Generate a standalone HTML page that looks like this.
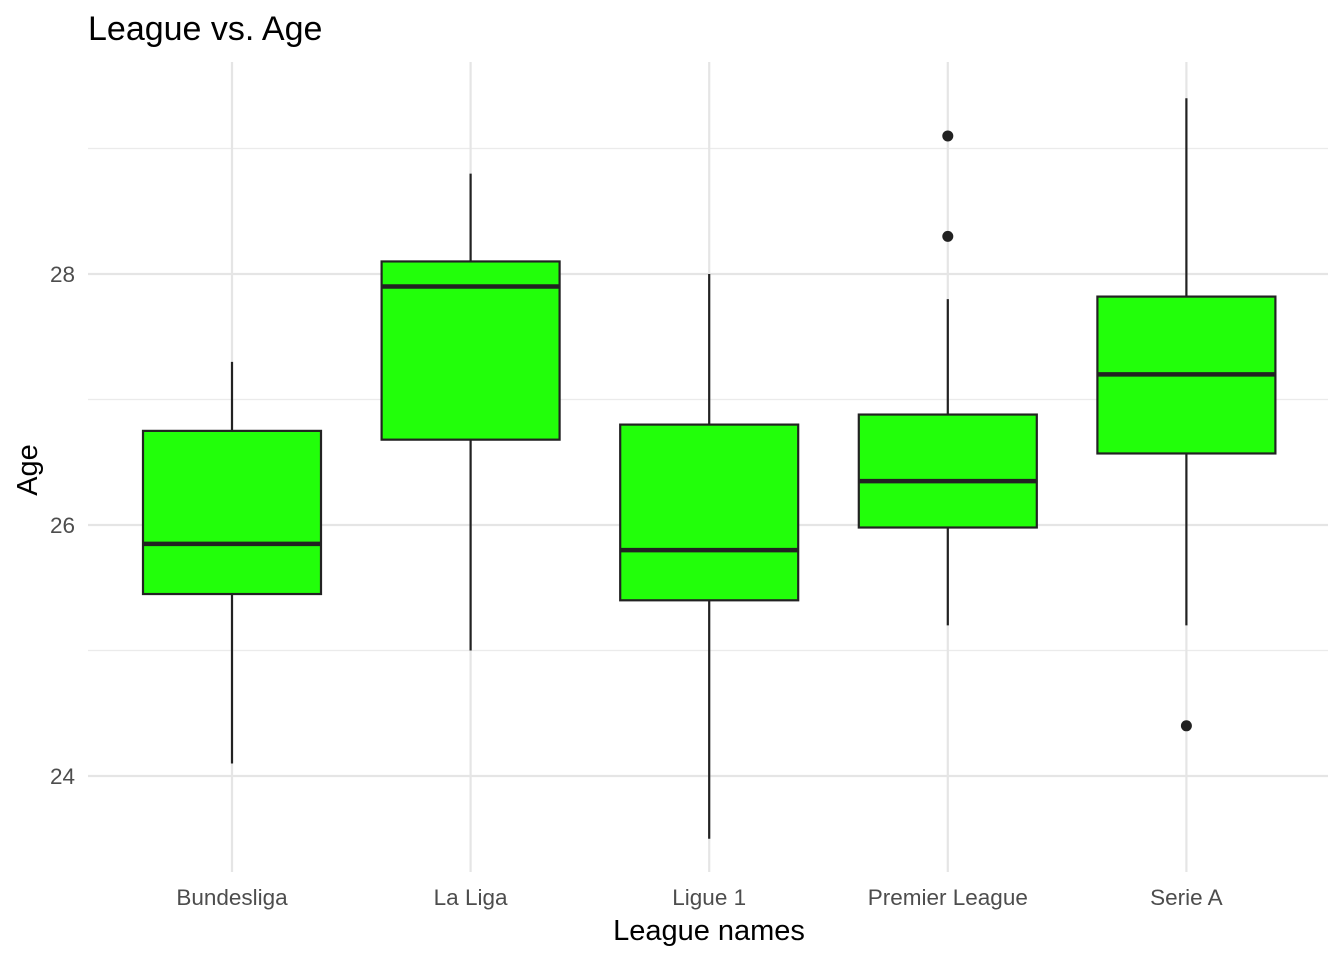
<!DOCTYPE html>
<html><head><meta charset="utf-8"><style>
body{margin:0;background:#fff;font-family:"Liberation Sans",Arial,sans-serif;}
svg{display:block}
</style></head><body>
<svg width="1344" height="960" xmlns="http://www.w3.org/2000/svg">
<text x="88" y="40" font-size="34" fill="#000">League vs. Age</text>
<g id="grid"></g><g id="boxes"></g><g id="axes"></g>
<text x="709" y="940" font-size="29" text-anchor="middle" fill="#000">League names</text>
<text transform="translate(37,470) rotate(-90)" font-size="29" text-anchor="middle" fill="#000">Age</text>
</svg>
<script>
const categories=["Bundesliga","La Liga","Ligue 1","Premier League","Serie A"];
const lowerWhisker=[24.10,25.0,23.50,25.20,25.20];
const q1=[25.45,26.68,25.40,25.98,26.57];
const median=[25.85,27.90,25.80,26.35,27.20];
const q3=[26.75,28.10,26.80,26.88,27.82];
const upperWhisker=[27.30,28.80,28.0,27.80,29.40];
const outliers=[[],[],[],[29.10,28.30],[24.40]];
const yTicks=[24,26,28];
const yMinor=[25,27,29];
const NS="http://www.w3.org/2000/svg";
const y=v=>525-(v-26)*125.5;
const x=i=>232+i*238.6;
const bw=178;
function mk(tag,attrs,parent){const e=document.createElementNS(NS,tag);for(const k in attrs)e.setAttribute(k,attrs[k]);document.getElementById(parent).appendChild(e);return e;}
yMinor.forEach(v=>{const l=mk('line',{x1:88,x2:1328,y1:y(v),y2:y(v),stroke:'#ebebeb','stroke-width':1.2},'grid');

});
yTicks.forEach(v=>{const l=mk('line',{x1:88,x2:1328,y1:y(v),y2:y(v),stroke:'#e5e5e5','stroke-width':2.2},'grid');


const t=mk('text',{x:75,y:y(v)+8,'font-size':22.5,'text-anchor':'end',fill:'#4d4d4d'},'axes');t.textContent=v;

});
categories.forEach((c,i)=>{const l=mk('line',{x1:x(i),x2:x(i),y1:62,y2:872,stroke:'#e5e5e5','stroke-width':2.2},'grid');


const t=mk('text',{x:x(i),y:905,'font-size':22.5,'text-anchor':'middle',fill:'#4d4d4d'},'axes');t.textContent=c;


const g=mk('g',{},'boxes');g.setAttribute('id','b'+i);


mk('line',{x1:x(i),x2:x(i),y1:y(upperWhisker[i]),y2:y(q3[i]),stroke:'#222','stroke-width':2.2},'b'+i);
mk('line',{x1:x(i),x2:x(i),y1:y(q1[i]),y2:y(lowerWhisker[i]),stroke:'#222','stroke-width':2.2},'b'+i);
mk('rect',{x:x(i)-bw/2,y:y(q3[i]),width:bw,height:y(q1[i])-y(q3[i]),fill:'#22ff0a',stroke:'#222','stroke-width':2.2},'b'+i);
mk('line',{x1:x(i)-bw/2,x2:x(i)+bw/2,y1:y(median[i]),y2:y(median[i]),stroke:'#222','stroke-width':4.5},'b'+i);
outliers[i].forEach(o=>{const p=mk('circle',{cx:x(i),cy:y(o),r:5.5,fill:'#222'},'b'+i);

});
});
</script>
</body></html>
